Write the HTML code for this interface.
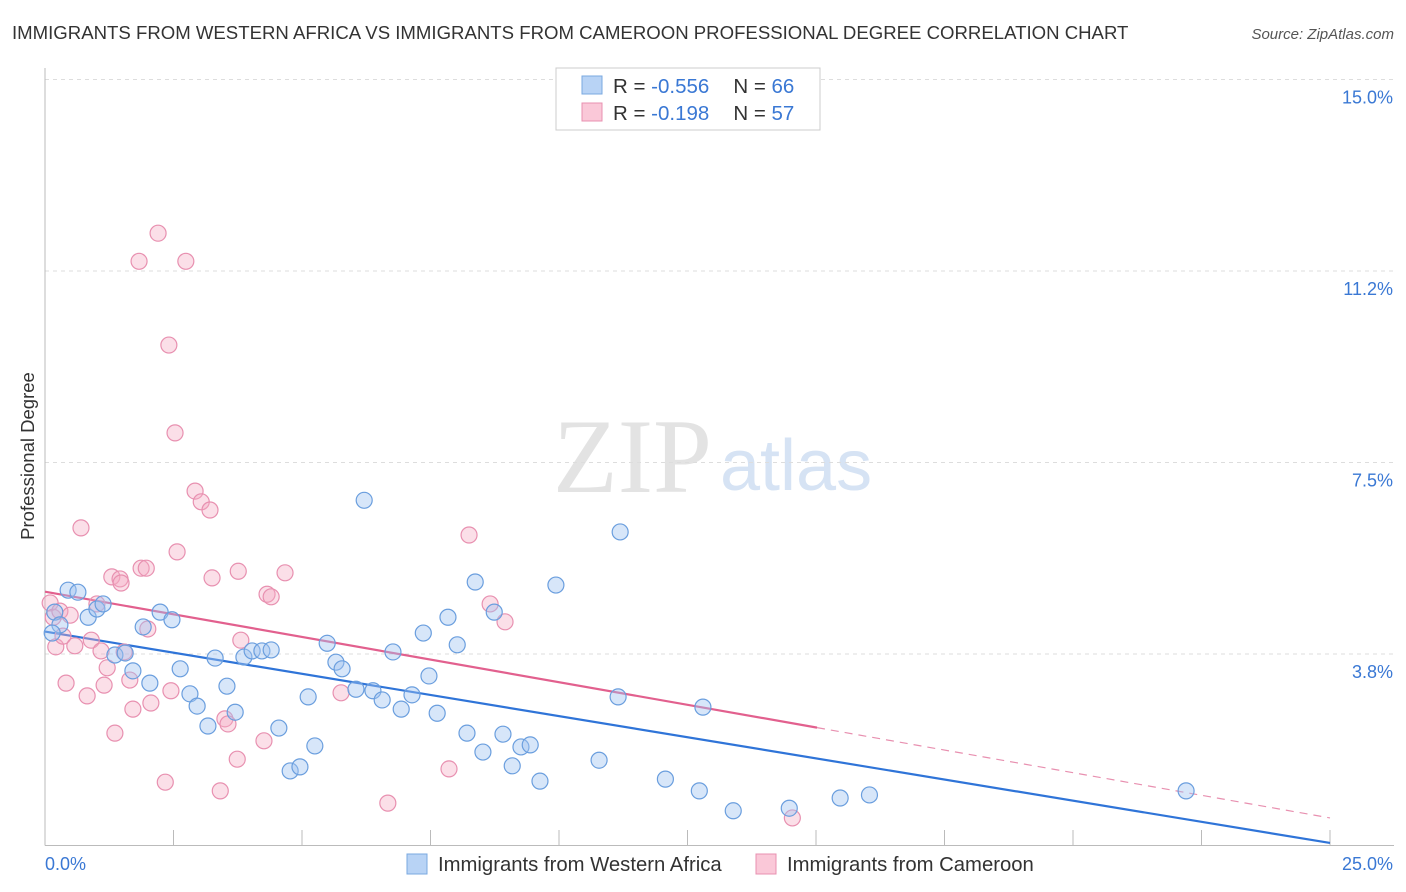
<!DOCTYPE html>
<html><head><meta charset="utf-8"><style>
body{margin:0;background:#fff;font-family:"Liberation Sans",sans-serif;}
svg{display:block}
</style></head><body>
<svg id="c" width="1406" height="892" xmlns="http://www.w3.org/2000/svg">
<text x="12" y="39" font-size="18.6" fill="#333">IMMIGRANTS FROM WESTERN AFRICA VS IMMIGRANTS FROM CAMEROON PROFESSIONAL DEGREE CORRELATION CHART</text>
<text x="1394" y="39" font-size="15" fill="#555" font-style="italic" text-anchor="end">Source: ZipAtlas.com</text>
<g>
<text x="553" y="492" font-size="106" fill="#e3e3e3" font-family="Liberation Serif,serif">ZIP</text>
<text x="720" y="490" font-size="72" fill="#d6e3f4">atlas</text>
</g>
<g id="grid"></g><g id="axes"></g><g id="trends"></g><g id="pts"></g>
<text transform="translate(34,456) rotate(-90)" font-size="18.5" fill="#333" text-anchor="middle">Professional Degree</text>
<g>
<rect x="556" y="68" width="264" height="62" fill="#fff" stroke="#ccc"/>
<rect x="582" y="76" width="20" height="18" fill="#b8d3f5" stroke="#7aa8e0"/>
<rect x="582" y="103" width="20" height="18" fill="#fac8d8" stroke="#e890b0"/>
<text x="613" y="93" font-size="20.5" fill="#333">R = <tspan fill="#3a78d4">-0.556</tspan><tspan dx="24">N = </tspan><tspan fill="#3a78d4">66</tspan></text>
<text x="613" y="120" font-size="20.5" fill="#333">R =  <tspan fill="#3a78d4">-0.198</tspan><tspan dx="24">N = </tspan><tspan fill="#3a78d4">57</tspan></text>
</g>
<g>
<rect x="407" y="854" width="20" height="20" fill="#b8d3f5" stroke="#7aa8e0"/>
<text x="438" y="871" font-size="20.3" fill="#333">Immigrants from Western Africa</text>
<rect x="756" y="854" width="20" height="20" fill="#fac8d8" stroke="#e890b0"/>
<text x="787" y="871" font-size="20.3" fill="#333">Immigrants from Cameroon</text>
</g>
</svg>
<script>
const blueX=[0.19,0.45,0.64,0.29,0.14,0.84,1.01,1.13,1.36,1.56,1.71,1.91,2.04,2.24,2.47,2.63,2.82,2.96,3.17,3.31,3.54,3.70,3.87,4.03,4.22,4.40,4.55,4.77,4.96,5.12,5.25,5.49,5.66,5.78,6.05,6.21,6.38,6.56,6.77,6.93,7.14,7.36,7.47,7.63,7.84,8.02,8.21,8.37,8.52,8.74,8.91,9.09,9.26,9.44,9.63,9.94,10.78,11.15,11.19,12.07,12.73,12.80,13.39,14.48,15.47,16.04,22.20];
const blueY=[4.57,5.00,4.96,4.32,4.16,4.47,4.63,4.73,3.73,3.77,3.42,4.28,3.18,4.57,4.42,3.46,2.97,2.73,2.34,3.67,3.12,2.61,3.69,3.81,3.81,3.83,2.30,1.46,1.54,2.91,1.95,3.96,3.59,3.46,3.06,6.76,3.03,2.85,3.79,2.67,2.95,4.16,3.32,2.59,4.47,3.93,2.20,5.16,1.83,4.57,2.18,1.56,1.93,1.97,1.26,5.10,1.67,2.91,6.14,1.30,1.07,2.71,0.68,0.73,0.93,0.99,1.07];
const pinkX=[0.10,0.16,0.21,0.29,0.35,0.41,0.49,0.58,0.70,0.82,0.90,1.01,1.09,1.15,1.21,1.30,1.36,1.46,1.48,1.54,1.65,1.71,1.87,1.97,2.00,2.06,2.20,1.83,2.34,2.41,2.45,2.53,2.57,2.74,2.92,3.04,3.21,3.25,3.41,3.50,3.56,3.74,3.76,3.81,4.26,4.32,4.40,4.67,5.76,6.67,7.86,8.25,8.66,8.95,14.54];
const pinkY=[4.75,4.47,3.89,4.59,4.10,3.18,4.51,3.91,6.22,2.93,4.02,4.73,3.81,3.14,3.48,5.26,2.20,5.22,5.14,3.79,3.24,2.67,5.43,5.43,4.24,2.79,11.99,11.44,1.24,9.80,3.03,8.08,5.75,11.44,6.94,6.73,6.57,5.24,1.07,2.48,2.38,1.69,5.37,4.02,2.05,4.92,4.87,5.34,2.99,0.83,1.50,6.08,4.73,4.38,0.54];
const yTicks=[3.75,7.5,11.25,15];
const yTickLabels=["3.8%","7.5%","11.2%","15.0%"];
const blueTrend=[4.19,0.05];
const pinkTrend=[4.97,0.54];
const pinkSolidEnd=15.02;
const NS='http://www.w3.org/2000/svg';
const sx=v=>45+v/25*1285, sy=v=>845.5-v/3.75*191.5;
function mk(tag,attrs,parent){const e=document.createElementNS(NS,tag);for(const k in attrs)e.setAttribute(k,attrs[k]);document.getElementById(parent).appendChild(e);return e;}
yTicks.forEach((t,i)=>{
 const l=mk('line',{x1:45,x2:1394,y1:sy(t),y2:sy(t),stroke:'#ddd','stroke-dasharray':'4,4'},'grid');
 
 
 const tx=mk('text',{x:1393,y:sy(t)+24,'font-size':18,fill:'#3a78d4','text-anchor':'end'},'grid');
 tx.textContent=yTickLabels[i];
 
 
});
const ax=mk('line',{x1:45,x2:1394,y1:845.5,y2:845.5,stroke:'#bbb'},'axes');


const ay=mk('line',{x1:45,x2:45,y1:68,y2:845.5,stroke:'#bbb'},'axes');


for(let i=1;i<=10;i++){const t=mk('line',{x1:sx(i*2.5),x2:sx(i*2.5),y1:830,y2:845.5,stroke:'#bbb'},'axes');
 
 }
[['0.0%',45,'start'],['25.0%',1393,'end']].forEach(a=>{const t=mk('text',{x:a[1],y:870,'font-size':18,fill:'#3a78d4','text-anchor':a[2]},'axes');t.textContent=a[0];
 
 });
function pt(xs,ys,fill,stroke,name){xs.forEach((x,i)=>{const c=mk('circle',{cx:sx(x),cy:sy(ys[i]),r:8,fill:fill,stroke:stroke,'stroke-width':1.2},'pts');
 
 });}
pt(pinkX,pinkY,'rgba(245,170,195,0.38)','#e890b0','point-cameroon');
pt(blueX,blueY,'rgba(160,196,240,0.42)','#6a9ede','point-western-africa');
const bl=mk('line',{x1:sx(0),y1:sy(blueTrend[0]),x2:sx(25),y2:sy(blueTrend[1]),stroke:'#2f74d8','stroke-width':2.2},'trends');


const pe=pinkTrend[0]+(pinkTrend[1]-pinkTrend[0])*pinkSolidEnd/25;
const pl=mk('line',{x1:sx(0),y1:sy(pinkTrend[0]),x2:sx(pinkSolidEnd),y2:sy(pe),stroke:'#e2608e','stroke-width':2.2},'trends');


const pd=mk('line',{x1:sx(pinkSolidEnd),y1:sy(pe),x2:sx(25),y2:sy(pinkTrend[1]),stroke:'#e890b0','stroke-width':1.2,'stroke-dasharray':'8,6'},'trends');


</script>
</body></html>
